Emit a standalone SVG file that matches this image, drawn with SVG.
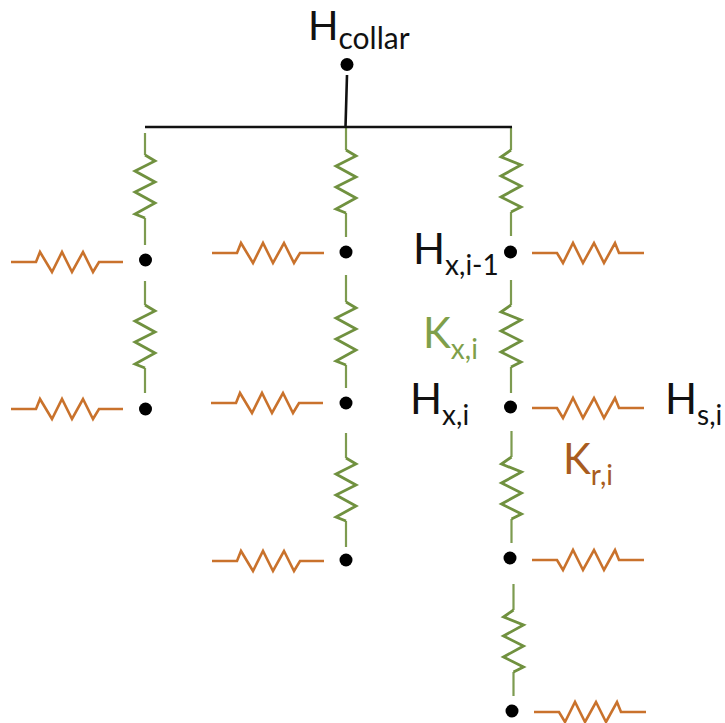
<svg xmlns="http://www.w3.org/2000/svg" width="725" height="723" viewBox="0 0 725 723">
<style>
text{font-family:"Lato","Carlito","Liberation Sans",sans-serif;font-size:42px;fill:#111}
.top{font-size:40px}
.sub{font-size:28px}
.wide{font-size:30px}
.kx{fill:#7f9f4a}
.kr{fill:#a85c20}
.g{fill:none;stroke:#70913f;stroke-width:2.8}
.l{fill:none;stroke:#7d9b50;stroke-width:2.2}
.o{fill:none;stroke:#c9722c;stroke-width:2.6}
.w{fill:none;stroke:#111;stroke-width:2.6}
.d{fill:#000}
</style>
<defs>
<path id="zr" class="g" d="M0 0L10 6L-10 16L10 27L-10 37L10 48L-10 59L0 63"/>
<path id="zl" class="g" d="M0 0L-10 7L10 15L-10 26L10 36L-10 47L10 57L0 62"/>
<path id="ou" class="o" d="M0 0H25L29 -10L41 10L51 -10L61 10L72 -10L82 10L88 0H112"/>
<path id="od" class="o" d="M0 0H25L31 10L41 -10L51 10L62 -10L72 10L83 -10L87 0H112"/>
<circle id="dot" class="d" r="6.500"/>
</defs>
<g id="connectors">
<path class="l" d="M145 133V155M145 218V245M145 281V305M145 368V393M346 127V150M346 213V237M346 275V302M346 365V388M346 433V458M346 521V547M511 127V150M511 212V236M511 280V305M511 367V393M511.500 431V457M511.500 519V543M513.500 584V610M513.500 672V696"/>
<use href="#zr" x="145" y="155"/><use href="#zr" x="145" y="305"/>
<use href="#zr" x="346" y="150"/><use href="#zr" x="346" y="302"/><use href="#zr" x="346" y="458"/>
<use href="#zl" x="511" y="150"/><use href="#zl" x="511" y="305"/><use href="#zl" x="511.500" y="457"/><use href="#zl" x="513.500" y="610"/>
<use href="#ou" x="11" y="262"/><use href="#ou" x="11" y="409"/>
<use href="#ou" x="212" y="253"/><use href="#ou" x="211" y="403"/><use href="#ou" x="212" y="561"/>
<use href="#od" x="532" y="253"/><use href="#od" x="532" y="408"/><use href="#od" x="532" y="560"/><use href="#od" x="534" y="712"/>
<path class="w" d="M347 75L345.500 127M145 127H512"/>
</g>
<g id="node-collar"><use href="#dot" x="347" y="64.500"/><text class="top" x="308" y="40">H<tspan class="sub wide" dy="9">collar</tspan></text></g>
<g id="node-a1"><use href="#dot" x="145.500" y="260"/></g>
<g id="node-a2"><use href="#dot" x="145.500" y="409"/></g>
<g id="node-b1"><use href="#dot" x="346" y="252"/></g>
<g id="node-b2"><use href="#dot" x="346" y="403"/></g>
<g id="node-b3"><use href="#dot" x="346" y="560"/></g>
<g id="node-c1"><use href="#dot" x="510.500" y="252"/><text x="413" y="264">H<tspan class="sub" dy="11">x,i-1</tspan></text></g>
<g id="node-c2"><use href="#dot" x="510.500" y="407"/><text x="410" y="414">H<tspan class="sub" dy="11">x,i</tspan></text></g>
<g id="node-c3"><use href="#dot" x="510" y="558"/></g>
<g id="node-c4"><use href="#dot" x="512" y="711"/></g>
<g id="label-hs"><text x="665" y="414">H<tspan class="sub" dy="11">s,i</tspan></text></g>
<g id="label-kx"><text class="kx" x="423" y="348">K<tspan class="sub kx" dy="11">x,i</tspan></text></g>
<g id="label-kr"><text class="kr" x="563" y="474">K<tspan class="sub kr" dy="11">r,i</tspan></text></g>
</svg>
